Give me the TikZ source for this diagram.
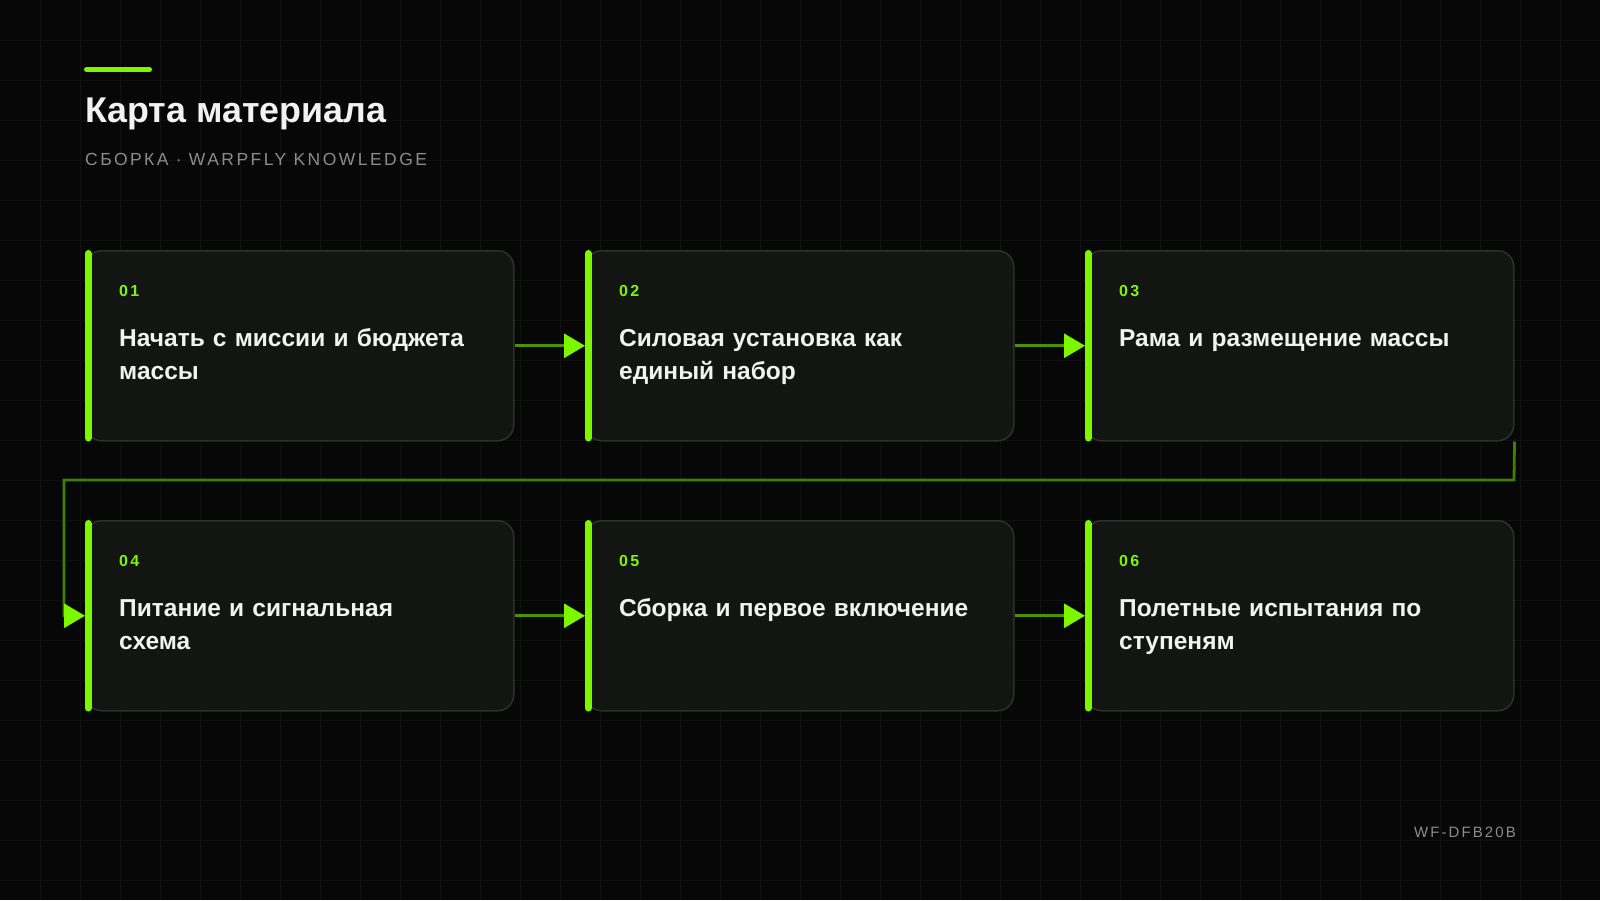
\documentclass[tikz,border=0pt]{standalone}
\usepackage{fontspec}
\setmainfont{Liberation Sans}
\newfontfamily\subfont[LetterSpace=14]{Liberation Sans}
\newfontfamily\footfont[LetterSpace=14]{Liberation Sans}
\newfontfamily\numfont[LetterSpace=14]{Liberation Sans}
\usetikzlibrary{arrows.meta}
\definecolor{bg}{HTML}{060706}
\definecolor{gridc}{HTML}{0E110E}
\definecolor{cardfill}{HTML}{131513}
\definecolor{cardline}{HTML}{2D302D}
\definecolor{accent}{HTML}{7CF700}
\definecolor{flowc}{HTML}{4C9200}
\definecolor{linkc}{HTML}{407F00}
\definecolor{txt}{HTML}{F2F2F2}
\definecolor{graytxt}{HTML}{8C8C8C}
\tikzset{
  gridline/.style={draw=gridc, line width=1pt},
  card/.style={draw=cardline, fill=cardfill, line width=1.5pt, rounded corners=16pt,
    minimum width=428pt, minimum height=190pt, anchor=north west, inner sep=0pt},
  sidebar/.style={draw=accent, line width=7pt, line cap=round},
  num/.style={anchor=base west, inner sep=0pt, text=accent, font=\numfont\bfseries\fontsize{16}{19}\selectfont},
  ttl/.style={anchor=base west, inner sep=0pt, text=txt, text width=385pt, align=left,
    font=\bfseries\fontsize{24.5}{33.6}\selectfont},
  flow/.style={draw=flowc, line width=3pt, -{Triangle[length=21pt,width=24pt,color=accent]}},
  link/.style={draw=linkc, line width=2.8pt, -{Triangle[length=21pt,width=24pt,color=accent]}},
}
\begin{document}
\begin{tikzpicture}[x=1pt,y=-1pt]
\useasboundingbox (0,0) rectangle (1600,900);
\fill[bg] (0,0) rectangle (1600,900);
\foreach \i in {40,80,...,1560} \draw[gridline] (\i,0) -- (\i,900);
\foreach \j in {40,80,...,880} \draw[gridline] (0,\j) -- (1600,\j);
% header
\coordinate (a1) at (86.5,69.5);
\coordinate (a2) at (149.5,69.5);
\draw[draw=accent, line width=5pt, line cap=round] (a1) -- (a2);
\node[anchor=base west, inner sep=0pt, text=txt, font=\bfseries\fontsize{35.8}{42}\selectfont] (title) at (85,122.7) {Карта материала};
\node[anchor=base west, inner sep=0pt, text=graytxt, font=\subfont\fontsize{17.5}{20}\selectfont] (subtitle) at (85,165) {СБОРКА · WARPFLY KNOWLEDGE};
% cards
\node[card] (c1) at (85,250) {};
\node[card] (c2) at (585,250) {};
\node[card] (c3) at (1085,250) {};
\node[card] (c4) at (85,520) {};
\node[card] (c5) at (585,520) {};
\node[card] (c6) at (1085,520) {};
\foreach \c in {c1,c2,c3,c4,c5,c6}
  \draw[sidebar] ([xshift=3pt,yshift=-3.5pt]\c.north west) -- ([xshift=3pt,yshift=3.5pt]\c.south west);
% texts
\node[num] (n1) at (119,296) {01};
\node[num] (n2) at (619,296) {02};
\node[num] (n3) at (1119,296) {03};
\node[num] (n4) at (119,566) {04};
\node[num] (n5) at (619,566) {05};
\node[num] (n6) at (1119,566) {06};
\node[ttl] (t1) at (119,346) {Начать с миссии и бюджета\\массы};
\node[ttl] (t2) at (619,346) {Силовая установка как\\единый набор};
\node[ttl] (t3) at (1119,346) {Рама и размещение массы};
\node[ttl] (t4) at (119,616) {Питание и сигнальная\\схема};
\node[ttl] (t5) at (619,616) {Сборка и первое включение};
\node[ttl] (t6) at (1119,616) {Полетные испытания по\\ступеням};
% connectors
\draw[flow] (c1.east) -- (c2.west);
\draw[flow] (c2.east) -- (c3.west);
\draw[flow] (c4.east) -- (c5.west);
\draw[flow] (c5.east) -- (c6.west);
\coordinate (k1) at (1514,480);
\coordinate (k2) at (64,480);
\draw[link] (c3.south east) -- (k1) -- (k2) |- (c4.west);
% footer
\node[anchor=base east, inner sep=0pt, text=graytxt, font=\footfont\fontsize{15}{18}\selectfont] (footer) at (1516,837.7) {WF-DFB20B};
\end{tikzpicture}
\end{document}
